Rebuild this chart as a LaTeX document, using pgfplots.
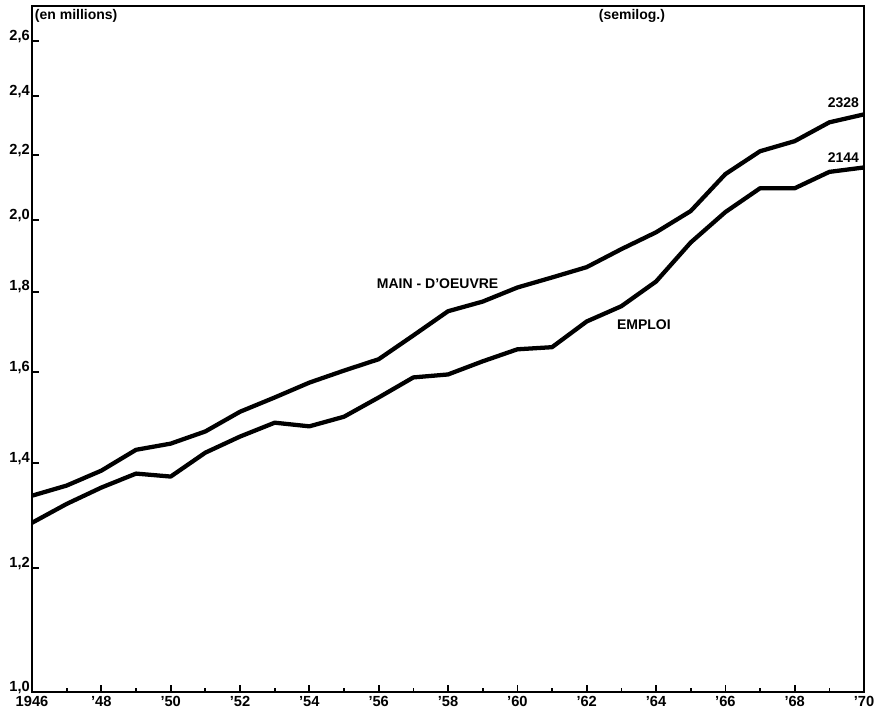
\documentclass[border=0pt]{standalone}
\usepackage{pgfplots}
\pgfplotsset{compat=1.18}
\usepackage{fontspec}
\setmainfont{Liberation Sans}

\newcommand{\lbl}{\bfseries\fontsize{10.5}{12}\selectfont}
\newcommand{\tlbl}{\bfseries\fontsize{11}{13}\selectfont}

\begin{document}
\begin{tikzpicture}
\begin{axis}[
    scale only axis,
    width=624pt, height=514.5pt,
    ymode=log,
    xmin=1946, xmax=1970,
    ymin=1.0, ymax=2.738,
    axis line style={line width=1.4pt},
    xtick={1946,1948,...,1970},
    xticklabels={1946,'48,'50,'52,'54,'56,'58,'60,'62,'64,'66,'68,'70},
    minor x tick num=1,
    ytick={1.0,1.2,1.4,1.6,1.8,2.0,2.2,2.4,2.6},
    yticklabels={{1,0},{1,2},{1,4},{1,6},{1,8},{2,0},{2,2},{2,4},{2,6}},
    yminorticks=false,
    xtick pos=bottom, ytick pos=left,
    tick align=inside,
    major tick length=5pt, minor tick length=3pt,
    tick style={line width=1.3pt, black},
    tick label style={font=\tlbl},
    xticklabel style={inner sep=1pt, text height=8pt, text depth=0pt, yshift=-2pt},
    yticklabel style={inner sep=1.5pt, yshift=3.5pt},
    clip=false,
]
% main-d'oeuvre
\addplot[line width=3.2pt, black, line join=round] coordinates {
    (1946,1.334) (1947,1.354) (1948,1.384) (1949,1.427) (1950,1.440)
    (1951,1.466) (1952,1.509) (1953,1.541) (1954,1.575) (1955,1.603)
    (1956,1.630) (1957,1.688) (1958,1.749) (1959,1.774) (1960,1.811)
    (1961,1.838) (1962,1.866) (1963,1.916) (1964,1.964) (1965,2.026)
    (1966,2.139) (1967,2.212) (1968,2.245) (1969,2.308) (1970,2.335)
};
% emploi
\addplot[line width=3.2pt, black, line join=round] coordinates {
    (1946,1.282) (1947,1.318) (1948,1.350) (1949,1.378) (1950,1.372)
    (1951,1.421) (1952,1.455) (1953,1.485) (1954,1.477) (1955,1.498)
    (1956,1.541) (1957,1.587) (1958,1.594) (1959,1.625) (1960,1.654)
    (1961,1.659) (1962,1.723) (1963,1.762) (1964,1.827) (1965,1.935)
    (1966,2.023) (1967,2.095) (1968,2.095) (1969,2.146) (1970,2.160)
};
\node[font=\lbl, anchor=north west, inner sep=2pt] at (rel axis cs:0,1) {(en millions)};
\node[font=\lbl, anchor=north, inner sep=2pt] at (rel axis cs:0.721,1) {(semilog.)};
\node[font=\lbl] at (axis cs:1957.7,1.822) {MAIN - D'OEUVRE};
\node[font=\lbl] at (axis cs:1963.65,1.716) {EMPLOI};
\node[font=\lbl, anchor=east, inner sep=1pt] at (axis cs:1969.9,2.374) {2328};
\node[font=\lbl, anchor=east, inner sep=1pt] at (axis cs:1969.9,2.193) {2144};
\path (rel axis cs:-0.0385,1.0087) rectangle (rel axis cs:1.0168,-0.0335);
\end{axis}
\end{tikzpicture}
\end{document}
